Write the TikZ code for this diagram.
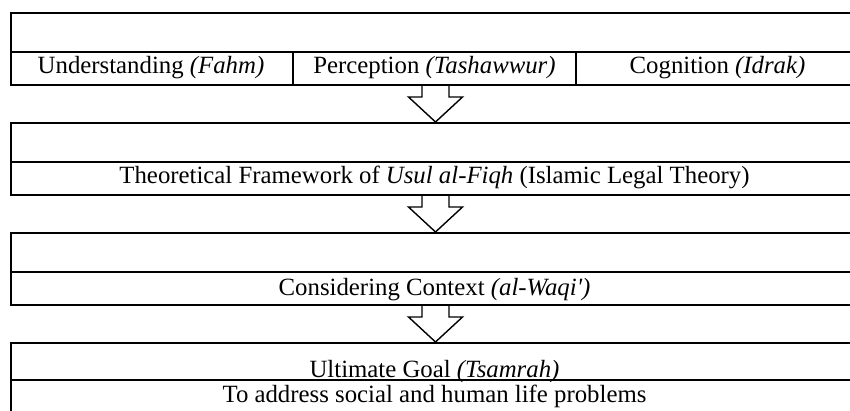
\documentclass[tikz,border=0pt]{standalone}
\usepackage{fontspec}
\setmainfont{Liberation Serif}
\usetikzlibrary{calc}
\tikzset{
  frame/.style={draw=black, line width=2pt, minimum width=849pt, minimum height=72pt, anchor=north west, inner sep=0pt},
  rule/.style={draw=black, line width=2pt},
  label/.style={anchor=base, inner sep=0pt, font=\fontsize{24.8}{29}\selectfont},
  blockarrow/.style={draw=black, line width=1.4pt, line join=miter}
}
\newcommand{\downarrowshape}[2]{%
  \draw[blockarrow] ($(#1.south)+(-13.5,0)$) -- ++(0,11) -- ++(-13.5,0)
     -- (#2.north) -- ($(#1.south)+(27,11)$) -- ++(-13.5,0) -- ++(0,-11);}
\begin{document}
\begin{tikzpicture}[x=1pt,y=-1pt]
\useasboundingbox (0,0) rectangle (850,411);
% boxes
\node[frame] (b1) at (10,12) {};
\node[frame] (b2) at (10,122) {};
\node[frame] (b3) at (10,232) {};
\node[frame, minimum height=80pt] (b4) at (10,342) {};
% inner rules
\draw[rule] (10,52) -- (859,52);
\draw[rule] (293,52) -- (293,84);
\draw[rule] (576,52) -- (576,84);
\draw[rule] (10,162) -- (859,162);
\draw[rule] (10,272) -- (859,272);
\draw[rule] (10,380) -- (859,380);
% texts
\node[label] (t1) at (151,74) {Understanding \textit{(Fahm)}};
\node[label] (t2) at (434.5,74) {Perception \textit{(Tashawwur)}};
\node[label] (t3) at (717.5,74) {Cognition \textit{(Idrak)}};
\node[label] (t4) at (434.5,184) {Theoretical Framework of \textit{Usul al-Fiqh} (Islamic Legal Theory)};
\node[label] (t5) at (434.5,295) {Considering Context \textit{(al-Waqi\textquotesingle)}};
\node[label] (t6) at (434.5,377) {Ultimate Goal \textit{(Tsamrah)}};
\node[label] (t7) at (434.5,402) {To address social and human life problems};
% arrows
\downarrowshape{b1}{b2}
\downarrowshape{b2}{b3}
\downarrowshape{b3}{b4}
\end{tikzpicture}
\end{document}
